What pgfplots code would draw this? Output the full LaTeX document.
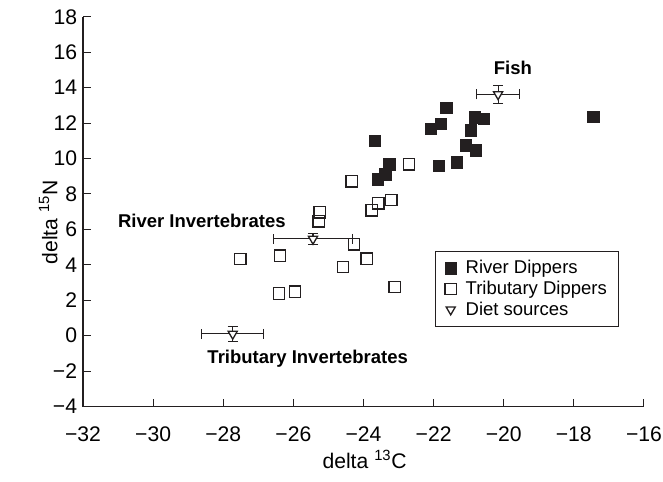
\documentclass[border=0pt]{standalone}
\usepackage{pgfplots}
\pgfplotsset{compat=1.18}
\usepackage{fontspec}
\setmainfont{Liberation Sans}
\definecolor{ink}{RGB}{35,31,32}

\pgfplotstableread{
x y
-21.64 12.85
-21.80 11.95
-22.08 11.67
-20.83 12.33
-20.57 12.23
-20.94 11.58
-21.08 10.74
-20.79 10.46
-21.34 9.79
-21.85 9.58
-17.44 12.36
-23.67 11.00
-23.26 9.67
-23.38 9.10
-23.59 8.82
}\river

\pgfplotstableread{
x y
-22.70 9.67
-24.34 8.72
-23.21 7.66
-23.58 7.47
-23.77 7.08
-25.25 6.97
-25.28 6.45
-24.27 5.16
-27.51 4.32
-26.38 4.52
-23.91 4.35
-24.58 3.87
-26.41 2.38
-25.95 2.49
-23.11 2.75
}\trib

\pgfplotstableread{
x y ex ey
-25.44 5.46 1.13 0.30
-20.16 13.62 0.62 0.52
-27.73 0.10 0.89 0.43
}\diet

\begin{document}
\begin{tikzpicture}
\begin{axis}[
  scale only axis, width=424.5pt, height=295pt,
  xmin=-32, xmax=-16, ymin=-4, ymax=18,
  axis lines*=left,
  xtick={-32,-30,...,-16}, ytick={-4,-2,...,18},
  xticklabels={−32,−30,−28,−26,−24,−22,−20,−18,−16},
  yticklabels={−4,−2,0,2,4,6,8,10,12,14,16,18},
  tick align=inside, major tick length=6pt,
  tick style={ink, line width=0.8pt},
  axis line style={ink, line width=0.8pt},
  font=\fontsize{16}{19}\selectfont,
  xticklabel style={yshift=-12pt},
  yticklabel style={xshift=-1pt},
  xlabel={delta \textsuperscript{13}C}, ylabel={delta \textsuperscript{15}N},
  xlabel style={at={(axis description cs:0.502,-0.135)}, anchor=center},
  ylabel style={at={(axis description cs:-0.062,0.473)}, anchor=center},
  clip=false,
  legend style={at={(0.956,0.204)}, anchor=south east, draw=ink, line width=0.8pt,
    font=\fontsize{14}{16}\selectfont, inner xsep=7pt, inner ysep=5pt,
    /tikz/every odd column/.append style={column sep=5pt}},
  legend cell align=left,
]
\addplot[only marks, mark=square*, mark size=4.3pt, mark options={fill=ink, draw=ink, line width=0.5pt}] table[x=x,y=y] {\river};
\addlegendentry{River Dippers}
\addplot[only marks, mark=square, mark size=4.3pt, mark options={draw=ink, fill=white, line width=1pt}] table[x=x,y=y] {\trib};
\addlegendentry{Tributary Dippers}
\addplot[only marks, mark=triangle*, mark size=4pt, mark options={rotate=180, fill=white, draw=ink, line width=1pt},
  error bars/.cd, x dir=both, x explicit, y dir=both, y explicit,
  error mark=-,
  error bar style={ink, line width=0.8pt},
  error mark options={rotate=90, ink, line width=0.8pt, mark size=3.8pt}]
  table[x=x, y=y, x error=ex, y error=ey] {\diet};
\addlegendentry{Diet sources}
\node[font=\fontsize{14}{17}\selectfont\bfseries] at (axis cs:-19.74,15.09) {Fish};
\node[font=\fontsize{14}{17}\selectfont\bfseries] at (axis cs:-28.61,6.47) {River Invertebrates};
\node[font=\fontsize{14}{17}\selectfont\bfseries] at (axis cs:-25.59,-1.32) {Tributary Invertebrates};
\coordinate (bbl) at (rel axis cs:-0.148,-0.191);
\coordinate (btr) at (rel axis cs:1.034,1.043);
\end{axis}
\pgfresetboundingbox
\useasboundingbox (bbl) rectangle (btr);
\end{tikzpicture}
\end{document}
